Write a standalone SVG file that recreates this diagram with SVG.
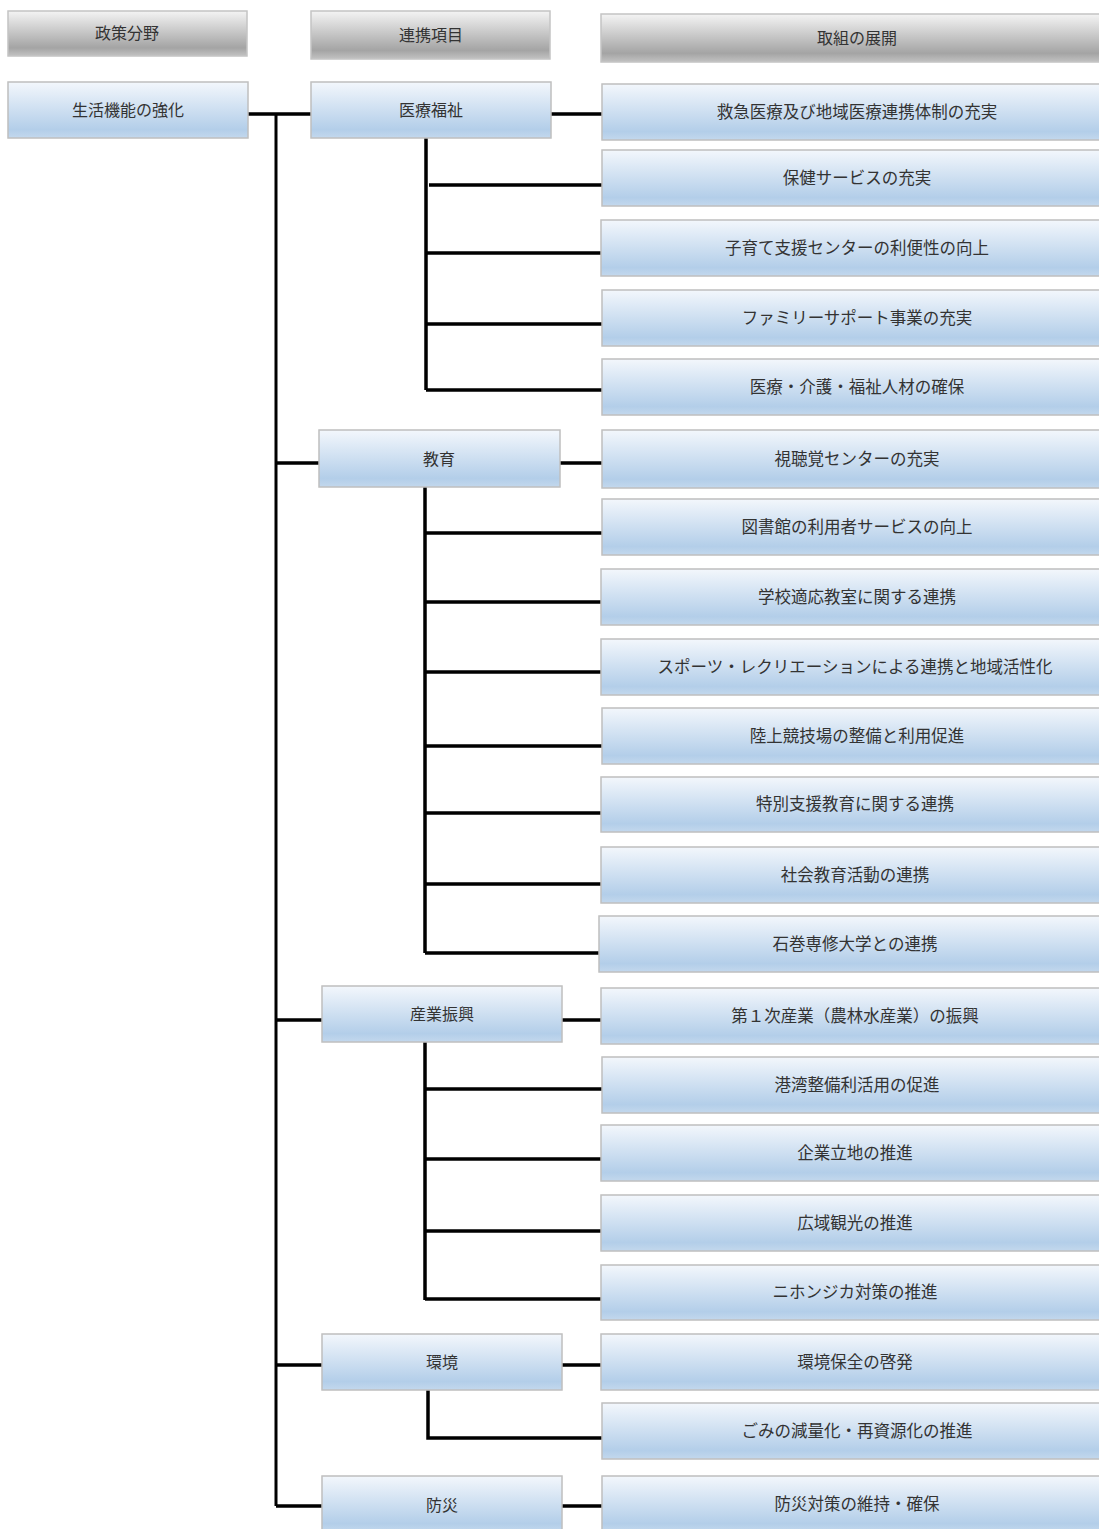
<svg xmlns="http://www.w3.org/2000/svg" width="1099" height="1529" viewBox="0 0 1099 1529">
<defs>
<linearGradient id="gb" x1="0" y1="0" x2="0" y2="1">
<stop offset="0" stop-color="#f3f7fc"/>
<stop offset="0.85" stop-color="#b3cee9"/>
<stop offset="1" stop-color="#c3d8ed"/>
</linearGradient>
<linearGradient id="gg" x1="0" y1="0" x2="0" y2="1">
<stop offset="0" stop-color="#f4f4f4"/>
<stop offset="0.82" stop-color="#a4a4a4"/>
<stop offset="1" stop-color="#c2c2c2"/>
</linearGradient>
</defs>
<style>
.b{fill:url(#gb);stroke:#bfbfbf;stroke-width:1.5}
.h{fill:url(#gg);stroke:#c4c4c4;stroke-width:1.5}
text{font-family:"Noto Sans CJK JP","Noto Sans CJK SC",sans-serif;font-size:16px;fill:#333;text-anchor:middle}
.t{font-size:16.5px}
.c{fill:none;stroke:#000;stroke-width:3.5}
.m{fill:none;stroke:#000;stroke-width:3}
</style>
<rect width="1099" height="1529" fill="#fff"/>
<g id="headers">
<g id="h1"><rect class="h" x="8" y="11" width="239" height="45"/><text x="127" y="39">政策分野</text></g>
<g id="h2"><rect class="h" x="311" y="11" width="239" height="48"/><text x="431" y="41">連携項目</text></g>
<g id="h3"><rect class="h" x="601" y="14" width="514" height="48"/><text x="857" y="44">取組の展開</text></g>
</g>
<g id="connectors">
<path class="m" d="M276 114V1506"/>
<path class="c" d="M248 114H311M276 463H319M276 1020H322M276 1365H322M276 1506H322"/>
<path class="c" d="M551 114H602M426 138V390M429 185H602M426 253H601M426 324H602M426 390H602"/>
<path class="c" d="M560 463H602M425 487V953M425 533H602M425 602H601M425 672H601M425 746H602M425 813H601M425 884H601M425 953H599"/>
<path class="c" d="M562 1020H601M425 1042V1300M425 1089H602M425 1159H601M425 1231H601M425 1299H601"/>
<path class="c" d="M562 1365H601M428 1390V1438H602"/>
<path class="c" d="M562 1506H602"/>
</g>
<g id="n-seikatsu"><rect class="b" x="8" y="82" width="240" height="56"/><text x="128" y="116">生活機能の強化</text></g>
<g id="n-iryo"><rect class="b" x="311" y="82" width="240" height="56"/><text x="431" y="116">医療福祉</text></g>
<g id="n-kyoiku"><rect class="b" x="319" y="430" width="241" height="57"/><text x="439" y="465">教育</text></g>
<g id="n-sangyo"><rect class="b" x="322" y="986" width="240" height="56"/><text x="442" y="1020">産業振興</text></g>
<g id="n-kankyo"><rect class="b" x="322" y="1334" width="240" height="56"/><text x="442" y="1368">環境</text></g>
<g id="n-bosai"><rect class="b" x="322" y="1476" width="240" height="56"/><text x="442" y="1511">防災</text></g>
<g id="i1"><rect class="b" x="602" y="84" width="514" height="56"/><text class="t" x="857" y="118">救急医療及び地域医療連携体制の充実</text></g>
<g id="i2"><rect class="b" x="602" y="150" width="514" height="56"/><text class="t" x="857" y="184">保健サービスの充実</text></g>
<g id="i3"><rect class="b" x="601" y="220" width="514" height="56"/><text class="t" x="857" y="254">子育て支援センターの利便性の向上</text></g>
<g id="i4"><rect class="b" x="602" y="290" width="514" height="56"/><text class="t" x="857" y="324">ファミリーサポート事業の充実</text></g>
<g id="i5"><rect class="b" x="602" y="359" width="514" height="56"/><text class="t" x="857" y="393">医療・介護・福祉人材の確保</text></g>
<g id="i6"><rect class="b" x="602" y="430" width="514" height="58"/><text class="t" x="857" y="465">視聴覚センターの充実</text></g>
<g id="i7"><rect class="b" x="602" y="499" width="514" height="56"/><text class="t" x="857" y="533">図書館の利用者サービスの向上</text></g>
<g id="i8"><rect class="b" x="601" y="569" width="514" height="56"/><text class="t" x="857" y="603">学校適応教室に関する連携</text></g>
<g id="i9"><rect class="b" x="601" y="639" width="514" height="56"/><text class="t" x="855" y="673">スポーツ・レクリエーションによる連携と地域活性化</text></g>
<g id="i10"><rect class="b" x="602" y="708" width="514" height="56"/><text class="t" x="857" y="742">陸上競技場の整備と利用促進</text></g>
<g id="i11"><rect class="b" x="601" y="777" width="514" height="55"/><text class="t" x="855" y="810">特別支援教育に関する連携</text></g>
<g id="i12"><rect class="b" x="601" y="847" width="514" height="56"/><text class="t" x="855" y="881">社会教育活動の連携</text></g>
<g id="i13"><rect class="b" x="599" y="916" width="516" height="56"/><text class="t" x="855" y="950">石巻専修大学との連携</text></g>
<g id="i14"><rect class="b" x="601" y="988" width="514" height="56"/><text class="t" x="855" y="1022">第１次産業（農林水産業）の振興</text></g>
<g id="i15"><rect class="b" x="602" y="1057" width="514" height="56"/><text class="t" x="857" y="1091">港湾整備利活用の促進</text></g>
<g id="i16"><rect class="b" x="601" y="1125" width="514" height="56"/><text class="t" x="855" y="1159">企業立地の推進</text></g>
<g id="i17"><rect class="b" x="601" y="1195" width="514" height="56"/><text class="t" x="855" y="1229">広域観光の推進</text></g>
<g id="i18"><rect class="b" x="601" y="1265" width="514" height="55"/><text class="t" x="855" y="1298">ニホンジカ対策の推進</text></g>
<g id="i19"><rect class="b" x="601" y="1334" width="514" height="56"/><text class="t" x="855" y="1368">環境保全の啓発</text></g>
<g id="i20"><rect class="b" x="602" y="1403" width="514" height="56"/><text class="t" x="857" y="1437">ごみの減量化・再資源化の推進</text></g>
<g id="i21"><rect class="b" x="602" y="1476" width="514" height="56"/><text class="t" x="857" y="1510">防災対策の維持・確保</text></g>
</svg>
